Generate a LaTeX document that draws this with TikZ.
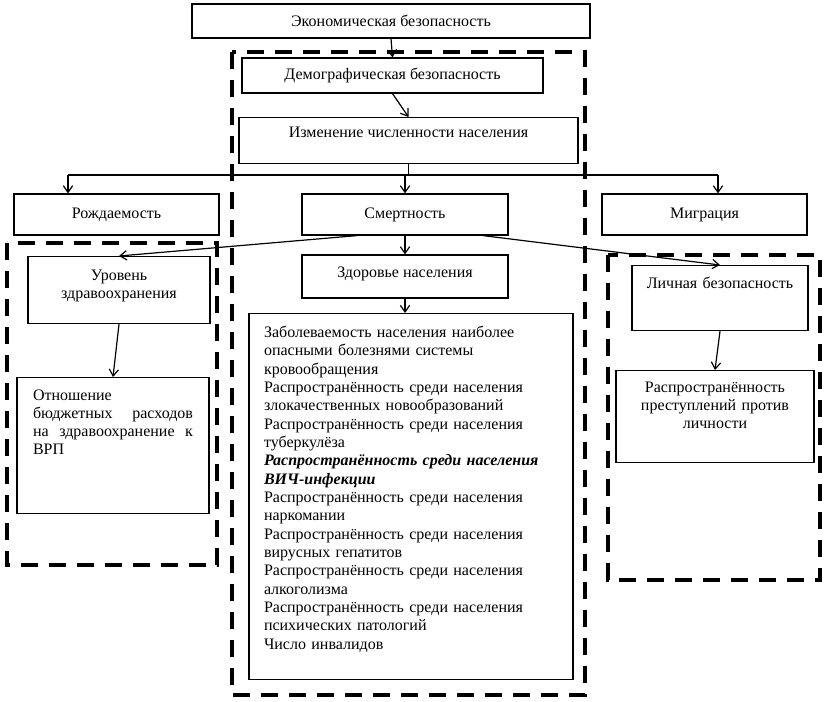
\documentclass[tikz,border=0pt]{standalone}
\usepackage{fontspec}
\setmainfont{Liberation Serif}
\usetikzlibrary{arrows.meta,calc}

\begin{document}
\begin{tikzpicture}[x=0.75pt, y=-0.75pt, >={Straight Barb[length=5pt,width=7pt]}, line width=0.9pt,
  font=\fontsize{12}{13.5}\selectfont,
  blok/.style={draw, inner sep=0pt},
  frame/.style={dash pattern=on 13pt off 8pt, line width=3pt}]
  \useasboundingbox (0,0) rectangle (827,702);
  % dashed frames
  \draw[frame] (232,52) rectangle (585,695);
  \draw[frame] (7,243) rectangle (217,565);
  \draw[frame] (608,255) rectangle (820,580);
  % upper part
  \node[blok, minimum width=298.5pt, minimum height=25.5pt] (eco) at (391,21) {Экономическая безопасность};
  \node[blok, minimum width=225.75pt, minimum height=26.25pt] (demo) at (392.5,75.5) {Демографическая безопасность};
  \node[blok, anchor=north, minimum width=254.25pt, text height=15pt, text depth=19.5pt] (change) at (408.5,117) {Изменение численности населения};
  \draw[->] (eco.south) -- (demo.north);
  \draw[->] (demo.south) -- (change.north);
  % three factors
  \node[blok, minimum width=153.75pt, minimum height=30.75pt] (birth) at (116.5,214.5) {Рождаемость};
  \node[blok, minimum width=154.5pt, minimum height=30.75pt] (death) at (405,214.5) {Смертность};
  \node[blok, minimum width=153.75pt, minimum height=30.75pt] (migr) at (704.5,214.5) {Миграция};
  \coordinate (bl) at (68,175);
  \coordinate (br) at (718,175);
  \draw (change.south) -- (change.south |- bl);
  \draw (bl) -- (br);
  \draw[->] (bl) -- (bl |- birth.north);
  \draw[->] (death.north |- bl) -- (death.north);
  \draw[->] (br) -- (br |- migr.north);
  % left column
  \node[blok, anchor=north, minimum width=136.5pt, text width=124pt, align=center, text height=18pt, text depth=32.25pt] (care) at (119,256) {Уровень\\ здравоохранения};
  \node[blok, anchor=north, inner xsep=12pt, text width=120pt, align=left, text height=17.25pt, text depth=84.75pt] (ratio) at (113,377) {Отношение\\ бюджетных\hfill расходов\\ на\hfill здравоохранение\hfill к\\ ВРП};
  \draw[->] (care.south) -- (ratio.north);
  % middle column
  \node[blok, minimum width=154.5pt, minimum height=32.25pt, text height=9pt, text depth=7pt] (health) at (405,276.5) {Здоровье населения};
  \node[blok, anchor=north, inner xsep=11.25pt, text width=220.5pt, align=left, text height=18pt, text depth=256.5pt,
    font=\fontsize{12}{13.75}\selectfont] (list) at (411,313) {Заболеваемость населения наиболее\\ опасными болезнями системы\\ кровообращения\\ Распространённость среди населения\\ злокачественных новообразований\\ Распространённость среди населения\\ туберкулёза\\ \textbf{\textit{Распространённость среди населения}}\\ \textbf{\textit{ВИЧ-инфекции}}\\ Распространённость среди населения\\ наркомании\\ Распространённость среди населения\\ вирусных гепатитов\\ Распространённость среди населения\\ алкоголизма\\ Распространённость среди населения\\ психических патологий\\ Число инвалидов};
  \draw[->] (death.south) -- (health.north);
  \draw[->] (health.south) -- (health.south |- list.north);
  % right column
  \node[blok, anchor=north, text width=132pt, align=center, text height=17.25pt, text depth=31.5pt] (personal) at (720,265) {Личная безопасность};
  \node[blok, anchor=north, text width=148.5pt, align=center, text height=16.5pt, text depth=52.5pt] (crime) at (715,370) {Распространённость\\ преступлений против\\ личности};
  \draw[->] (personal.south) -- (crime.north);
  % from mortality to the side columns
  \draw[->] ($(death.south)+(-48,0)$) -- (care.north);
  \draw[->] ($(death.south)+(78,0)$) -- (personal.north);
\end{tikzpicture}
\end{document}
